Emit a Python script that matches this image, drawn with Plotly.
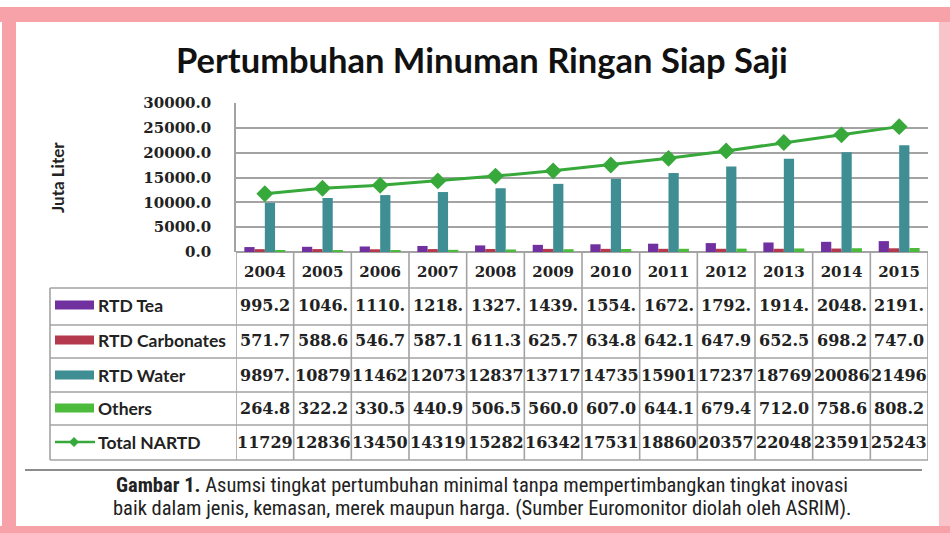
import plotly.graph_objects as go

years = ["2004", "2005", "2006", "2007", "2008", "2009", "2010", "2011", "2012", "2013", "2014", "2015"]
rtd_tea = [995.2, 1046, 1110, 1218, 1327, 1439, 1554, 1672, 1792, 1914, 2048, 2191]
rtd_carbonates = [571.7, 588.6, 546.7, 587.1, 611.3, 625.7, 634.8, 642.1, 647.9, 652.5, 698.2, 747.0]
rtd_water = [9897, 10879, 11462, 12073, 12837, 13717, 14735, 15901, 17237, 18769, 20086, 21496]
others = [264.8, 322.2, 330.5, 440.9, 506.5, 560.0, 607.0, 644.1, 679.4, 712.0, 758.6, 808.2]
total_nartd = [11729, 12836, 13450, 14319, 15282, 16342, 17531, 18860, 20357, 22048, 23591, 25243]
y_ticks = [0, 5000, 10000, 15000, 20000, 25000, 30000]

W, H = 950, 533
PX0, PX1, PY0, PY1 = 236, 928, 103, 252  # plot area in pixels

def px(x):
    return x / W

def py(y):
    return 1 - y / H

c_tea = "#7030A0"
c_carb = "#B5394C"
c_water = "#3E8E93"
c_oth = "#4CBB3C"
c_tot = "#37A83A"
grid = "#A3A3A3"

series = [("RTD Tea", rtd_tea, c_tea), ("RTD Carbonates", rtd_carbonates, c_carb),
          ("RTD Water", rtd_water, c_water), ("Others", others, c_oth)]

fig = go.Figure()
for name, vals, col in series:
    fig.add_trace(go.Bar(x=years, y=vals, name=name, marker=dict(color=col, line=dict(width=0))))
fig.add_trace(go.Scatter(x=years, y=total_nartd, name="Total NARTD", mode="lines+markers",
                         line=dict(color=c_tot, width=3),
                         marker=dict(symbol="diamond", size=13, color=c_tot)))

serif = "DejaVu Serif"
sans = "Lato"

fig.update_layout(
    width=W, height=H,
    margin=dict(l=0, r=0, t=0, b=0, autoexpand=False),
    paper_bgcolor="white", plot_bgcolor="white",
    showlegend=False,
    barmode="group", bargap=0.29, bargroupgap=0,
    xaxis=dict(domain=[px(PX0), px(PX1)], type="category", range=[-0.5, 11.5],
               automargin=False,
               showgrid=False, showline=False, zeroline=False, ticks="",
               tickfont=dict(family=serif, size=15, color="#222", weight="bold"),
               ticklabelstandoff=9),
    yaxis=dict(domain=[py(PY1), py(PY0)], range=[0, 30000], tickvals=y_ticks,
               ticktext=[f"{v:.1f}" for v in y_ticks], automargin=False,
               showgrid=True, gridcolor=grid, gridwidth=1.6,
               showline=True, linecolor=grid, linewidth=1.6,
               zeroline=True, zerolinecolor=grid, zerolinewidth=1.6,
               ticks="", tickfont=dict(family=serif, size=15, color="#222", weight="bold"),
               ticklabelstandoff=20),
)

shapes = []
# pink frame
pink = "#F7A1A9"
for x0, y0, x1, y1, col in [(0, 7, W, 22, pink), (2, 7, 16, 533, pink), (0, 526, W, 533, pink),
                            (939, 22, W, 526, "#F8C4CA")]:
    shapes.append(dict(type="rect", xref="paper", yref="paper", x0=px(x0), x1=px(x1),
                       y0=py(y1), y1=py(y0), line=dict(width=0), fillcolor=col, layer="below"))

row_lines = [288, 325, 358, 392, 425, 460]
for yy in row_lines:
    shapes.append(dict(type="line", xref="paper", yref="paper", x0=px(50), x1=px(PX1),
                       y0=py(yy), y1=py(yy), line=dict(color=grid, width=1.6)))
shapes.append(dict(type="line", xref="paper", yref="paper", x0=px(50), x1=px(50),
                   y0=py(288), y1=py(460), line=dict(color=grid, width=1.6)))
for i in range(len(years) + 1):
    shapes.append(dict(type="line", xref="x", yref="paper", x0=i - 0.5, x1=i - 0.5,
                       y0=py(PY1), y1=py(460), line=dict(color=grid, width=1.6)))
# separator rule under table
shapes.append(dict(type="line", xref="paper", yref="paper", x0=px(25), x1=px(922),
                   y0=py(470), y1=py(470), line=dict(color="#8C8C8C", width=2)))

row_centers = [305, 340, 375, 408, 442]
# legend swatches
for (name, vals, col), yc in zip(series, row_centers[:4]):
    shapes.append(dict(type="rect", xref="paper", yref="paper", x0=px(55), x1=px(94),
                       y0=py(yc + 4.5), y1=py(yc - 4.5), line=dict(width=0), fillcolor=col))
shapes.append(dict(type="line", xref="paper", yref="paper", x0=px(55), x1=px(95),
                   y0=py(row_centers[4]), y1=py(row_centers[4]), line=dict(color=c_tot, width=2.5)))
shapes.append(dict(type="path", xref="paper", yref="paper",
                   path=f"M {px(74)} {py(row_centers[4]-5)} L {px(79)} {py(row_centers[4])} "
                        f"L {px(74)} {py(row_centers[4]+5)} L {px(69)} {py(row_centers[4])} Z",
                   line=dict(width=0), fillcolor=c_tot))
fig.update_layout(shapes=shapes)

ann = []
ann.append(dict(text="<b>Pertumbuhan Minuman Ringan Siap Saji</b>", x=px(482), y=py(59),
                xref="paper", yref="paper", showarrow=False, xanchor="center", yanchor="middle",
                font=dict(family=sans, size=34.5, color="#111")))
ann.append(dict(text="<b>Juta Liter</b>", x=px(57), y=py(178), xref="paper", yref="paper",
                showarrow=False, textangle=-90, xanchor="center", yanchor="middle",
                font=dict(family=sans, size=17, color="#222")))
labels = [s[0] for s in series] + ["Total NARTD"]
for lab, yc in zip(labels, row_centers):
    ann.append(dict(text=f"<b>{lab}</b>", x=px(96), y=py(yc), xref="paper", yref="paper",
                    showarrow=False, xanchor="left", yanchor="middle",
                    font=dict(family=sans, size=17.5, color="#222")))
rows = [rtd_tea, rtd_carbonates, rtd_water, others, total_nartd]
for vals, yc in zip(rows, row_centers):
    for i, v in enumerate(vals):
        label = f"{v:.1f}"[:5]
        ann.append(dict(text=f"<b>{label}</b>", x=i, y=py(yc), xref="x", yref="paper",
                        showarrow=False, xanchor="center", yanchor="middle",
                        font=dict(family=serif, size=16, color="#222")))
cap_font = dict(family="Liberation Sans Narrow, Arial Narrow, Roboto Condensed, Liberation Sans",
                size=20.5, color="#222")
ann.append(dict(text="<b>Gambar 1.</b> Asumsi tingkat pertumbuhan minimal tanpa mempertimbangkan tingkat inovasi",
                x=px(482), y=py(485), xref="paper", yref="paper", showarrow=False,
                xanchor="center", yanchor="middle", font=cap_font))
ann.append(dict(text="baik dalam jenis, kemasan, merek maupun harga. (Sumber Euromonitor diolah oleh ASRIM).",
                x=px(482), y=py(508), xref="paper", yref="paper", showarrow=False,
                xanchor="center", yanchor="middle", font=cap_font))
fig.update_layout(annotations=ann)

fig.write_html("out.html", config={"displayModeBar": False},
               post_script="document.body.style.margin='0';")
